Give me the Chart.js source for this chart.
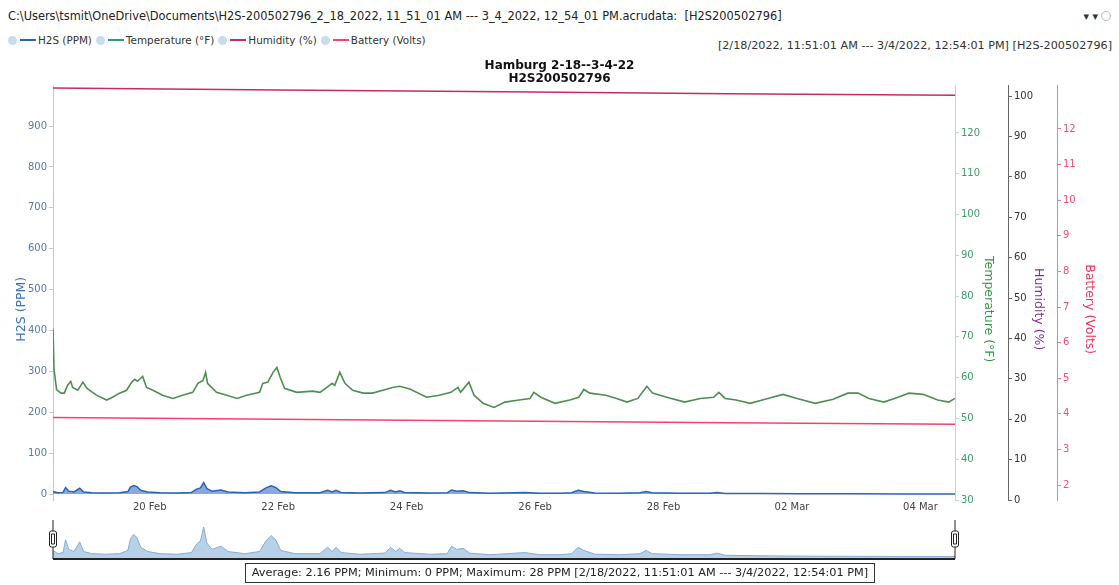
<!DOCTYPE html>
<html>
<head>
<meta charset="utf-8">
<script src="https://cdn.jsdelivr.net/npm/chart.js@4.4.1/dist/chart.umd.min.js"></script>
<style>
  body { margin:0; width:1119px; height:585px; background:#fff; position:relative; overflow:hidden;
         font-family:"DejaVu Sans", Verdana, sans-serif; color:#222; }
  .abs { position:absolute; white-space:nowrap; }
  #path { left:8px; top:9px; font-size:11.4px; }
  #tools { right:8px; top:10px; font-size:11px; color:#333; }
  #tools .ring { display:inline-block; width:8px; height:8px; border:1px solid #bbb; border-radius:50%; vertical-align:-1px; margin-left:3px; }
  #legend { left:8px; top:34px; font-size:10.4px; color:#333; }
  #legend .it { display:inline-block; margin-right:4px; }
  #legend .eye { display:inline-block; width:9px; height:9px; border-radius:50%; background:#c9dcec; vertical-align:-1px; margin-right:3px; }
  #legend .ln { display:inline-block; width:16px; height:2px; vertical-align:3px; margin-right:2px; }
  #range { right:7px; top:39px; font-size:11.2px; color:#333; }
  #main { position:absolute; left:0; top:0; }
  #nav { position:absolute; left:0; top:515px; }
  #stats { left:245px; top:563px; width:628px; height:18px; line-height:18px; border:1px solid #333;
           font-size:11.3px; text-align:center; color:#222; }
</style>
</head>
<body>
<div class="abs" id="path">C:\Users\tsmit\OneDrive\Documents\H2S-200502796_2_18_2022, 11_51_01 AM --- 3_4_2022, 12_54_01 PM.acrudata:&nbsp; [H2S200502796]</div>
<div class="abs" id="tools">&#9662; &#9662;<span class="ring"></span></div>
<div class="abs" id="legend"></div>
<div class="abs" id="range">[2/18/2022, 11:51:01 AM --- 3/4/2022, 12:54:01 PM] [H2S-200502796]</div>
<canvas id="main" width="1119" height="585"></canvas>
<canvas id="nav" width="1119" height="46"></canvas>
<div class="abs" id="stats">Average: 2.16 PPM; Minimum: 0 PPM; Maximum: 28 PPM [2/18/2022, 11:51:01 AM --- 3/4/2022, 12:54:01 PM]</div>

<script>
// time is in days since 18 Feb 2022 00:00
const startDay = 0.494, endDay = 14.538;
const xTickDays = [2, 4, 6, 8, 10, 12, 14];
const xTickLabels = ['20 Feb', '22 Feb', '24 Feb', '26 Feb', '28 Feb', '02 Mar', '04 Mar'];

const h2sTicks = [0, 100, 200, 300, 400, 500, 600, 700, 800, 900];
const tempTicks = [30, 40, 50, 60, 70, 80, 90, 100, 110, 120];
const humTicks = [0, 10, 20, 30, 40, 50, 60, 70, 80, 90, 100];
const batTicks = [2, 3, 4, 5, 6, 7, 8, 9, 10, 11, 12];

const seriesNames = ['H2S (PPM)', 'Temperature (°F)', 'Humidity (%)', 'Battery (Volts)'];
const seriesColors = ['#2a63b8', '#2f9a78', '#c42d63', '#f5426c'];

const tempDays = [0.494, 0.51, 0.55, 0.62, 0.67, 0.72, 0.77, 0.80, 0.88, 0.96, 1.02, 1.17, 1.33, 1.42, 1.53, 1.64,
  1.72, 1.77, 1.81, 1.89, 1.95, 2.05, 2.20, 2.36, 2.51, 2.67, 2.75, 2.83, 2.87, 2.90, 3.04, 3.20, 3.36, 3.51,
  3.71, 3.76, 3.84, 3.92, 3.98, 4.03, 4.10, 4.29, 4.54, 4.65, 4.76, 4.84, 4.88, 4.96, 5.04, 5.16, 5.32, 5.47,
  5.63, 5.78, 5.89, 6.05, 6.31, 6.51, 6.69, 6.80, 6.84, 6.97, 7.05, 7.19, 7.36, 7.53, 7.75, 7.92, 7.98, 8.09,
  8.31, 8.54, 8.68, 8.76, 8.85, 9.10, 9.27, 9.43, 9.60, 9.74, 9.83, 10.05, 10.33, 10.57, 10.78, 10.86, 10.96,
  11.13, 11.35, 11.58, 11.86, 12.08, 12.36, 12.64, 12.87, 13.03, 13.20, 13.43, 13.65, 13.82, 14.04, 14.27,
  14.44, 14.538];
const tempF = [72.0, 62.0, 57.0, 56.2, 56.2, 58.1, 59.1, 57.6, 56.9, 58.9, 57.4, 55.7, 54.5, 55.2, 56.2, 56.9,
  58.9, 59.6, 59.1, 60.3, 57.6, 56.9, 55.7, 54.9, 55.7, 56.4, 58.6, 59.3, 61.3, 58.6, 56.4, 55.7, 54.9, 55.7,
  56.4, 58.6, 58.9, 61.3, 62.5, 60.1, 57.4, 56.4, 56.7, 56.4, 57.6, 58.6, 58.1, 61.3, 58.6, 56.9, 56.2, 56.2,
  56.9, 57.6, 57.9, 57.2, 55.2, 55.7, 56.4, 57.6, 56.4, 58.9, 55.7, 53.7, 52.7, 54.0, 54.5, 54.9, 56.4, 55.2,
  53.7, 54.5, 55.2, 57.1, 56.2, 55.7, 54.9, 54.0, 54.9, 57.9, 56.2, 55.2, 54.0, 54.9, 55.2, 56.4, 54.9,
  54.5, 53.7, 54.7, 55.9, 54.9, 53.7, 54.7, 56.2, 56.2, 54.9, 54.0, 55.2, 56.2, 55.9, 54.5,
  54.0, 54.9];

const h2sDays = [0.494, 0.57, 0.65, 0.69, 0.74, 0.82, 0.91, 0.97, 1.10, 1.30, 1.53, 1.66, 1.70, 1.75, 1.80, 1.86,
  1.97, 2.16, 2.44, 2.65, 2.73, 2.79, 2.84, 2.89, 2.97, 3.11, 3.22, 3.48, 3.71, 3.81, 3.89, 3.96, 4.04, 4.26,
  4.65, 4.77, 4.84, 4.90, 4.98, 5.27, 5.66, 5.75, 5.83, 5.89, 5.97, 6.36, 6.63, 6.70, 6.78, 6.88, 6.98, 7.30,
  7.84, 8.08, 8.39, 8.57, 8.67, 8.76, 8.93, 9.32, 9.63, 9.73, 9.82, 10.26, 10.72, 10.83, 10.96, 11.50, 12.13,
  12.90, 13.68, 14.538];
const h2sPpm = [6, 3, 4, 16, 7, 5, 14, 5, 3, 2.5, 3, 6, 17, 21, 18, 9,
  5, 3, 2.5, 4, 12, 15, 28, 13, 7, 10, 5, 3, 5, 15, 20, 16, 6, 3,
  3, 9, 5, 9, 4, 2.5, 3.5, 9, 5, 8, 4, 2.5, 3, 10, 7, 8, 3.5, 2,
  4, 2, 2, 3, 9, 6, 2.5, 2, 3, 6, 3, 2, 2, 3.5, 1.5, 1, 0.7,
  0.5, 0.3, 0.3];

const humDays = [0.494, 4.0, 7.5, 11.0, 14.538];
const humPct = [102.0, 101.5, 101.1, 100.6, 100.2];
const batDays = [0.494, 4.0, 7.5, 11.0, 14.538];
const batVolts = [3.90, 3.85, 3.80, 3.75, 3.71];

const pts = (xs, ys) => xs.map((x, i) => ({ x, y: ys[i] }));
const FONT = '"DejaVu Sans", Verdana, sans-serif';

document.getElementById('legend').innerHTML = seriesNames.map((n, i) =>
  `<span class="it"><span class="eye"></span><span class="ln" style="background:${seriesColors[i]}"></span>${n}</span>`).join('');

function yAxis(pos, min, max, ticks, width, color, lineColor, title, titleColor, titleX) {
  return {
    type: 'linear', position: pos, min, max,
    afterBuildTicks: s => { s.ticks = ticks.map(v => ({ value: v })); },
    afterFit: s => { s.width = width; },
    ticks: { color, font: { family: FONT, size: 10 }, padding: 2 },
    grid: { drawOnChartArea: false, tickLength: 4, tickColor: lineColor },
    border: { display: true, color: lineColor },
    // drawn by the axisTitles plugin, a bit below the axis middle like the original
    title: { display: false, text: title, color: titleColor, x: titleX },
  };
}

const axisTitles = {
  id: 'axisTitles',
  afterDraw(chart) {
    const ctx = chart.ctx;
    const cy = chart.chartArea.top + (chart.chartArea.bottom - chart.chartArea.top) * 0.54;
    Object.values(chart.scales).forEach(s => {
      const t = s.options.title;
      if (!t.text || s.axis !== 'y') return;
      ctx.save();
      ctx.translate(t.x, cy);
      ctx.rotate(s.position === 'left' ? -Math.PI / 2 : Math.PI / 2);
      ctx.fillStyle = t.color;
      ctx.font = `12.5px ${FONT}`;
      ctx.textAlign = 'center';
      ctx.textBaseline = 'middle';
      ctx.fillText(t.text, 0, 0);
      ctx.restore();
    });
  },
};

new Chart(document.getElementById('main').getContext('2d'), {
  type: 'line',
  data: {
    datasets: [
      { label: seriesNames[0], data: pts(h2sDays, h2sPpm), yAxisID: 'y', borderColor: seriesColors[0],
        backgroundColor: 'rgba(42,99,184,0.55)', fill: 'origin', borderWidth: 1.5 },
      { label: seriesNames[1], data: pts(tempDays, tempF), yAxisID: 'yT', borderColor: '#4c8f4f', borderWidth: 1.6 },
      { label: seriesNames[2], data: pts(humDays, humPct), yAxisID: 'yH', borderColor: seriesColors[2], borderWidth: 1.5 },
      { label: seriesNames[3], data: pts(batDays, batVolts), yAxisID: 'yB', borderColor: seriesColors[3], borderWidth: 1.5 },
    ],
  },
  options: {
    responsive: false, animation: false,
    elements: { point: { radius: 0 }, line: { tension: 0 } },
    layout: { padding: { top: 60, bottom: 70, left: 0, right: 0 } },
    plugins: {
      legend: { display: false }, tooltip: { enabled: false },
      title: { display: true, text: ['Hamburg 2-18--3-4-22', 'H2S200502796'], color: '#111',
        font: { family: FONT, size: 12, weight: 'bold', lineHeight: 1.05 }, padding: 0 },
    },
    scales: {
      x: {
        type: 'linear', min: startDay, max: endDay,
        afterBuildTicks: s => { s.ticks = xTickDays.map(v => ({ value: v })); },
        afterFit: s => { s.height = 15; },
        ticks: { autoSkip: false, maxRotation: 0, padding: 1, color: '#444', font: { family: FONT, size: 10 },
          callback: v => xTickLabels[xTickDays.indexOf(v)] },
        grid: { display: false, drawTicks: false }, border: { display: false },
      },
      y: yAxis('left', -14.6, 1000, h2sTicks, 53, '#557aa6', '#c8c8c8', 'H2S (PPM)', '#3a70c0', 22),
      yT: yAxis('right', 30, 131.7, tempTicks, 53, '#3c9e66', '#b9dcc4', 'Temperature (°F)', '#2f9a3e', 988),
      yH: yAxis('right', 0, 102.7, humTicks, 49, '#333', '#666', 'Humidity (%)', '#7b2d8e', 1038),
      yB: yAxis('right', 1.58, 13.23, batTicks, 62, '#f0506e', '#f27a95', 'Battery (Volts)', '#f0345a', 1089),
    },
  },
  plugins: [axisTitles],
});

// scrollbar preview under the chart
const navDecor = {
  id: 'navDecor',
  afterDraw(chart) {
    const { ctx, chartArea: a } = chart;
    ctx.save();
    ctx.strokeStyle = '#222';
    ctx.lineWidth = 2;
    ctx.beginPath(); ctx.moveTo(a.left, a.bottom); ctx.lineTo(a.right, a.bottom); ctx.stroke();
    ctx.lineWidth = 1;
    [a.left, a.right].forEach(x => {
      ctx.beginPath(); ctx.moveTo(x, a.top); ctx.lineTo(x, a.bottom); ctx.stroke();
      ctx.fillStyle = '#fff';
      ctx.beginPath(); ctx.roundRect(x - 3.5, a.top + 11, 7, 16, 2); ctx.fill(); ctx.stroke();
      ctx.beginPath(); ctx.rect(x - 1.5, a.top + 14, 3, 10); ctx.stroke();
    });
    ctx.restore();
  },
};

new Chart(document.getElementById('nav').getContext('2d'), {
  type: 'line',
  data: { datasets: [{ data: pts(h2sDays, h2sPpm), borderColor: '#86acd2', backgroundColor: '#b7d1e8',
    fill: 'start', borderWidth: 1 }] },
  options: {
    responsive: false, animation: false,
    elements: { point: { radius: 0 }, line: { tension: 0 } },
    layout: { padding: { top: 5, bottom: 2, left: 53, right: 164 } },
    plugins: { legend: { display: false }, tooltip: { enabled: false } },
    scales: {
      x: { type: 'linear', min: startDay, max: endDay, display: false },
      y: { min: -2, max: 34.5, display: false },
    },
  },
  plugins: [navDecor],
});
</script>
</body>
</html>
